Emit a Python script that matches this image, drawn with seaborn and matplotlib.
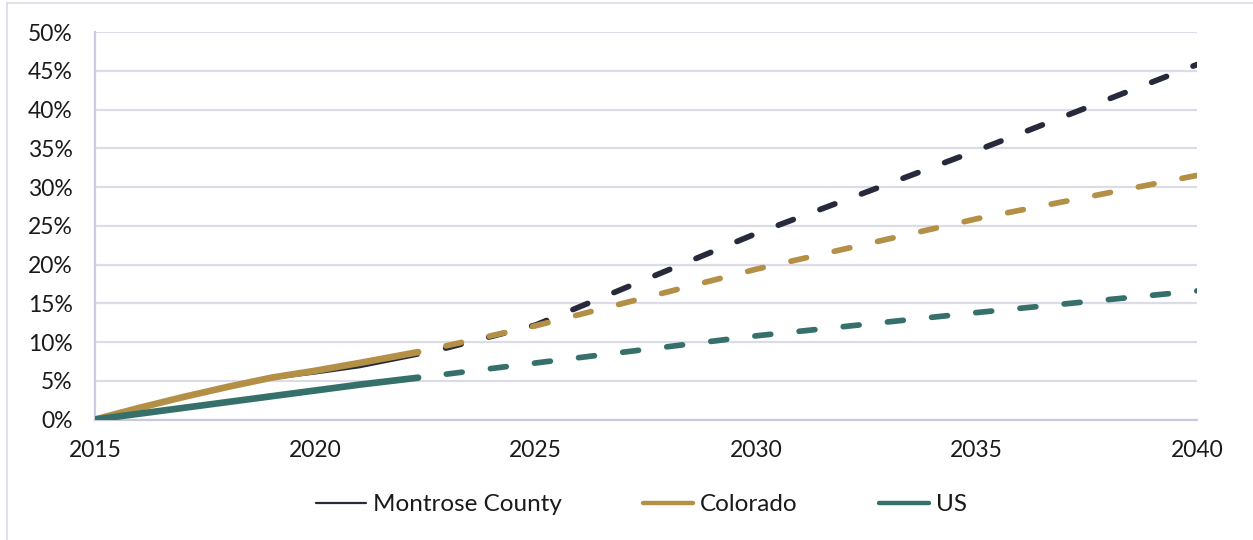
import matplotlib
matplotlib.use("Agg")
import matplotlib.pyplot as plt
from matplotlib.lines import Line2D
from matplotlib.patches import Rectangle
from matplotlib.ticker import PercentFormatter, MultipleLocator
import seaborn as sns
import pandas as pd

# Cumulative population growth since 2015 (%)
regions = ["Montrose County", "Colorado", "US"]
colors = ["#262a3b", "#b39045", "#36706b"]

hist_years = [2015, 2016, 2017, 2018, 2019, 2020, 2021, 2022.33]
montrose_hist = [0.0, 1.4, 2.8, 4.1, 5.3, 6.0, 6.8, 8.3]
colorado_hist = [0.0, 1.5, 2.9, 4.2, 5.4, 6.3, 7.3, 8.7]
us_hist = [0.0, 0.75, 1.5, 2.25, 3.0, 3.75, 4.5, 5.4]

proj_years = [2022.33, 2025, 2030, 2035, 2040]
montrose_proj = [8.3, 12.2, 24.0, 34.7, 45.8]
colorado_proj = [8.7, 12.1, 19.4, 25.9, 31.5]
us_proj = [5.4, 7.3, 10.8, 13.8, 16.6]

hist = {"Montrose County": montrose_hist, "Colorado": colorado_hist, "US": us_hist}
proj = {"Montrose County": montrose_proj, "Colorado": colorado_proj, "US": us_proj}
hist_width = {"Montrose County": 2.2, "Colorado": 4.8, "US": 4.8}
legend_width = {"Montrose County": 1.6, "Colorado": 3.2, "US": 3.2}

sns.set_theme(style="white")
plt.rcParams["font.family"] = ["Lato", "DejaVu Sans"]

fig = plt.figure(figsize=(12.53, 5.40), dpi=100)
ax = fig.add_axes([0.0758, 0.2231, 0.8795, 0.7176])

proj_width = 4.1
for name, col in zip(regions, colors):
    dh = pd.DataFrame({"year": hist_years, "growth": hist[name]})
    sns.lineplot(data=dh, x="year", y="growth", color=col, ax=ax,
                 linewidth=hist_width[name], solid_capstyle="round", zorder=3)
    dp = pd.DataFrame({"year": proj_years, "growth": proj[name]})
    sns.lineplot(data=dp, x="year", y="growth", color=col, ax=ax,
                 linewidth=proj_width, zorder=3)
    line = ax.get_lines()[-1]
    line.set_linestyle((2.8, (2.8, 5.0)))
    line.set_dash_capstyle("round")

ax.set_xlim(2015, 2040)
ax.set_ylim(0, 50)
ax.xaxis.set_major_locator(MultipleLocator(5))
ax.yaxis.set_major_locator(MultipleLocator(5))
ax.yaxis.set_major_formatter(PercentFormatter(decimals=0))
ax.set_xlabel("")
ax.set_ylabel("")

ax.grid(axis="y", color="#dcdce6", linewidth=1.6, zorder=0)
ax.set_axisbelow(True)
for side in ["top", "right"]:
    ax.spines[side].set_visible(False)
for side in ["left", "bottom"]:
    ax.spines[side].set_color("#c9cbdc")
    ax.spines[side].set_linewidth(1.6)

ax.tick_params(axis="y", length=0, pad=16, labelsize=16.5, labelcolor="#1a1a1a")
ax.tick_params(axis="x", length=0, pad=15, labelsize=16.5, labelcolor="#1a1a1a")

handles = [Line2D([0], [0], color=c, linewidth=legend_width[n], solid_capstyle="round")
           for n, c in zip(regions, colors)]
fig.legend(handles, regions, loc="center", bbox_to_anchor=(0.512, 0.065), ncol=3,
           frameon=False, fontsize=17.5, handlelength=2.05, handletextpad=0.3,
           columnspacing=3.35, labelcolor="#1a1a1a")

# Light frame around the figure
fig.patches.append(Rectangle((7 / 1253, -0.05), 1.1, 1.05 - 3 / 540,
                             transform=fig.transFigure, fill=False,
                             edgecolor="#d9dbe6", linewidth=1.2))

fig.savefig("out.png", dpi=100)
